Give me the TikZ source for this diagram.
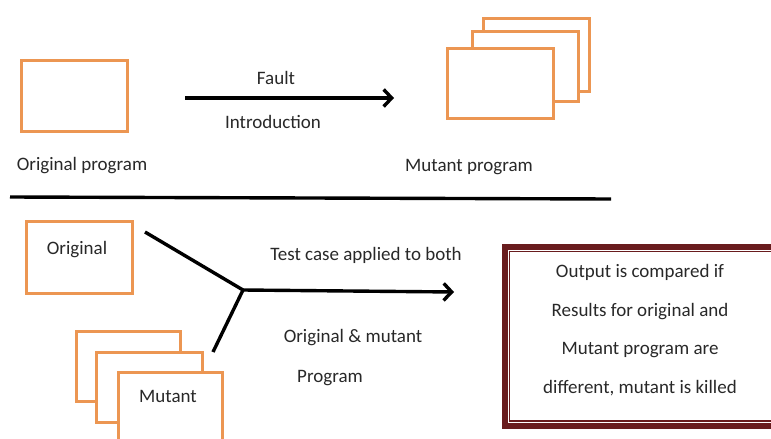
\documentclass[tikz,border=0pt]{standalone}
\usepackage{fontspec}
\setmainfont{Carlito}
\usetikzlibrary{arrows.meta}
\definecolor{boxorange}{RGB}{236,150,82}
\definecolor{killred}{RGB}{105,28,30}
\definecolor{txt}{RGB}{40,40,40}
\begin{document}
\begin{tikzpicture}[x=1pt,y=-1pt,
  prog/.style={draw=boxorange, line width=3.4pt, fill=white, anchor=north west,
    inner sep=0pt, minimum width=106pt, minimum height=71pt},
  lbl/.style={text=txt, font=\fontsize{19}{23}\selectfont, inner sep=0pt},
  conn/.style={line width=3.4pt, black},
  arr/.style={conn, -{Straight Barb[length=8pt,width=17pt,line width=3.4pt]}}
]
\path[use as bounding box] (0,0) rectangle (771,439);
\clip (0,0) rectangle (771,439);

% top part
\node[prog] (orig) at (19.5,58.5) {};
\node[lbl] (origlbl) at (82,166) {Original program};

\coordinate (fa) at (185,98);
\coordinate (fb) at (394,98);
\draw[arr] (fa) -- (fb);
\node[lbl] (fault) at (276,78) {Fault};
\node[lbl] (intro) at (273,122) {Introduction};

\node[prog, minimum height=73pt] (m3) at (481.5,16.5) {};
\node[prog, minimum height=70pt] (m2) at (470.5,29.5) {};
\node[prog, minimum height=70pt] (m1) at (445.5,46.5) {};
\node[lbl] (mutlbl) at (469,167) {Mutant program};

% separator
\coordinate (sa) at (10,197);
\coordinate (sb) at (611,199);
\draw[conn] (sa) -- (sb);

% bottom part
\node[prog, minimum width=106pt, minimum height=72pt] (orig2) at (24.5,219.5) {};
\node[lbl] (orig2lbl) at (77,250) {Original};

\node[prog, minimum width=104pt, minimum height=70pt] (b3) at (74.5,329.5) {};
\node[prog, minimum width=106pt, minimum height=70pt] (b2) at (94.5,350.5) {};
\node[prog, minimum width=104pt, minimum height=90pt] (b1) at (116.5,370.5) {};
\node[lbl] (mutant) at (168,396) {Mutant};

\coordinate (la) at (145,232);
\coordinate (lb) at (213,352);
\coordinate (j) at (243,290);
\coordinate (je) at (454,292);
\draw[conn] (la) -- (j);
\draw[conn] (lb) -- (j);
\draw[arr] (j) -- (je);

\node[lbl] (test) at (366,255) {Test case applied to both};
\node[lbl] (om) at (353,338) {Original \& mutant};
\node[lbl] (pg) at (330,378) {Program};

% result box
\node[draw=killred, line width=5.5pt, anchor=north west, minimum width=290pt, minimum height=179pt, inner sep=0pt]
  (res) at (502,244) {};
\draw[killred, line width=1.3pt] ([shift={(7.5,7.5)}]res.north west) rectangle ([shift={(-7.5,-7.5)}]res.south east);
\node[lbl, align=center, font=\fontsize{19}{38.5}\selectfont] (restxt) at (640,330)
  {Output is compared if\\Results for original and\\Mutant program are\\different, mutant is killed};
\end{tikzpicture}
\end{document}
